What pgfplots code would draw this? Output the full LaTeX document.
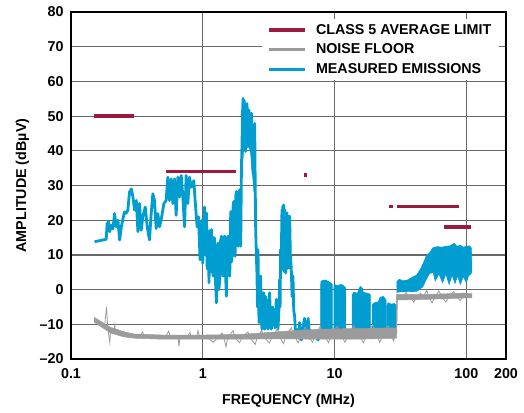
\documentclass[border=0pt]{standalone}
\usepackage{fontspec}
\setmainfont{Liberation Sans}
\usepackage{pgfplots}
\pgfplotsset{compat=1.18}
\definecolor{limitred}{RGB}{155,27,62}
\definecolor{noisegray}{RGB}{155,155,155}
\definecolor{emblue}{RGB}{0,157,209}
\definecolor{gridgray}{RGB}{105,105,105}
\newcommand{\chartfont}{\fontsize{14.3bp}{17bp}\selectfont\bfseries}
\begin{document}
\begin{tikzpicture}
\begin{axis}[
  scale only axis, width=435bp, height=347bp,
  xmode=log, log basis x=10,
  xmin=0.1, xmax=200, ymin=-20, ymax=80,
  xtick={0.1,1,10,100,200}, xticklabels={0.1,1,10,100,200},
  ytick={-20,-10,0,10,20,30,40,50,60,70,80},
  yticklabels={\textendash20,\textendash10,0,10,20,30,40,50,60,70,80},
  major tick length=0pt, minor tick length=0pt,
  grid=major, major grid style={gridgray, line width=1.2bp},
  axis line style={black, line width=1.2bp},
  tick label style={font=\chartfont},
  xticklabel style={yshift=-6bp},
  yticklabel style={xshift=-4bp},
  label style={font=\chartfont},
  xlabel={FREQUENCY (MHz)}, ylabel={AMPLITUDE (dBµV)},
  xlabel style={at={(axis description cs:0.5,-0.12)}, anchor=center},
  ylabel style={at={(axis description cs:-0.1115,0.5)}, anchor=center},
  legend image code/.code={\draw[#1] (0bp,0bp) -- (36bp,0bp);},
  legend style={at={(rel axis cs:0.984,0.98)}, anchor=north east,
    draw=none, fill=white, inner xsep=5.5bp, inner ysep=3bp,
    font=\chartfont, column sep=7bp, row sep=4.4bp, cells={anchor=west}},
]
\addlegendimage{limitred, line width=3.5bp}
\addlegendentry{CLASS 5 AVERAGE LIMIT}
\addlegendimage{noisegray, line width=3.5bp}
\addlegendentry{NOISE FLOOR}
\addlegendimage{emblue, line width=3.5bp}
\addlegendentry{MEASURED EMISSIONS}

% ---- measured emissions: dense blocks ----
\addplot[forget plot, fill=emblue, draw=emblue, line width=0.6bp] coordinates {
(3.95,6) (3.99,23) (4.108,24.4) (4.18,23.5) (4.3,22) (4.4,21.5) (4.56,21.1) (4.62,14) (4.62,6) (4.4,6) (4.25,5) (4.1,5)};
\addplot[forget plot, fill=emblue, draw=emblue, line width=0.6bp] coordinates {
(1.96,32) (2.0,48) (2.021,55.1) (2.06,54.5) (2.09,52) (2.15,53) (2.2,50) (2.25,51) (2.3,47) (2.36,48) (2.42,38) (2.45,28)
(2.4,32) (2.3,40) (2.2,42) (2.12,40) (2.05,41) (2.0,36)};
\addplot[forget plot, fill=emblue, draw=emblue, line width=0.6bp] coordinates {
(7.83,-12) (7.83,1.0) (7.9,2.4) (8.1,2.6) (8.5,2.8) (8.9,2.4) (9.3,2.0) (9.6,1.5) (9.6,-12)};
\addplot[forget plot, fill=emblue, draw=emblue, line width=0.6bp] coordinates {
(9.88,-12) (9.88,0.5) (10.0,1.4) (10.6,1.2) (11.2,1.5) (11.8,1.0) (12.1,0.5) (12.1,-12)};
\addplot[forget plot, fill=emblue, draw=emblue, line width=0.6bp] coordinates {
(13.6,-12) (13.6,-1.5) (14,-0.8) (15,-1.0) (15.3,0.3) (15.8,0.9) (16.3,0.3) (16.5,-0.8) (17.5,-1.0) (18.3,-1.2) (18.7,-1.5) (18.7,-12)};
\addplot[forget plot, fill=emblue, draw=emblue, line width=0.6bp] coordinates {
(19.3,-12) (19.3,-4.5) (20,-3.8) (21.5,-3.5) (22.2,-2.2) (23.5,-2.0) (24.6,-3) (24.6,-12)};
\addplot[forget plot, fill=emblue, draw=emblue, line width=0.6bp] coordinates {
(24.9,-12) (24.9,-4.5) (25.5,-3.8) (27,-4.2) (28.5,-4) (29.3,-4.5) (29.4,-12)};
\addplot[forget plot, fill=emblue, draw=emblue, line width=0.6bp] coordinates {
(29.7,-1) (29.7,2.3) (31,3.0) (33,2.5) (36,2.8) (39,3.6) (42,4.2) (45,6) (47,7.5) (50,10) (52.4,10.5) (55.6,12) (60,12.4)
(65,12.2) (70,12.5) (75,12.6) (81,13.3) (85,12.5) (90,12.8) (95,12.2) (100,12.5) (106,12.6) (109,12) (110,8)
(110,5) (108,4.5) (104,4) (100,2) (95,3.8) (90,1.5) (86,4) (82,1.8) (78,4.2) (74,1.5) (70,4.5) (66,2) (62,4.5) (58,2.5)
(56,5) (52.4,4.6) (49,2.5) (46.7,0.8) (42,-0.5) (36,-0.6) (30,-0.7)};
% ---- measured emissions: trace ----
\addplot[forget plot, emblue, line width=2.8bp, line join=round] coordinates {
(0.151,13.8) (0.185,14.5) (0.188,19.0) (0.193,19.5) (0.197,16.7) (0.202,18.5) (0.208,17.5) (0.214,21.9) (0.220,18.1)
(0.227,20.0) (0.234,14.3) (0.241,18.1) (0.248,20.5) (0.255,22.4) (0.262,22.0) (0.270,22.9) (0.278,28.1) (0.287,29.0)
(0.295,26.7) (0.304,22.9) (0.313,25.7) (0.322,16.7) (0.331,24.8) (0.341,17.1) (0.351,21.0) (0.366,23.8) (0.379,18.1)
(0.394,14.3) (0.406,21.9) (0.418,27.6) (0.430,25.7) (0.443,17.6) (0.456,21.9) (0.470,18.1) (0.483,20.0) (0.507,24.8)
(0.527,25.7) (0.543,32.4) (0.559,25.7) (0.576,31.9) (0.593,24.8) (0.610,31.9) (0.628,21.4) (0.647,32.4) (0.666,26.7)
(0.686,32.9) (0.706,26.7) (0.727,18.1) (0.748,32.9) (0.770,24.8) (0.793,32.4) (0.816,29.5) (0.855,31.4) (0.875,25.7)
(0.906,18.1) (0.927,21.0) (0.955,8.6) (0.983,20.0) (1.000,7.6) (1.03,23.8) (1.045,10) (1.066,22.1) (1.08,6) (1.098,16.3)
(1.115,2) (1.13,17) (1.145,5) (1.163,17.3) (1.18,8) (1.198,3.9) (1.215,15) (1.233,14.4) (1.25,2) (1.269,-3.8) (1.288,12)
(1.307,13.4) (1.325,0) (1.345,2.9) (1.365,14) (1.385,15.4) (1.405,5) (1.426,3.9) (1.447,15) (1.468,15.4) (1.49,4)
(1.511,-1.9) (1.533,14) (1.555,15.4) (1.578,5) (1.602,3.9) (1.63,22.5) (1.655,8) (1.678,11.5) (1.7,24) (1.718,25.4)
(1.74,12) (1.758,9.6) (1.78,27) (1.800,28.3) (1.825,15) (1.853,12.5) (1.88,27) (1.907,28.8) (1.925,18) (1.941,12.5)
(1.965,35) (1.986,42.2) (2.0,50) (2.021,55.1) (2.04,44) (2.06,54.5) (2.081,52.7) (2.1,42) (2.117,39.8) (2.14,52)
(2.167,53.6) (2.185,45) (2.205,41.2) (2.225,50) (2.244,51.7) (2.27,43) (2.297,45.0) (2.317,50) (2.337,50.8) (2.37,40)
(2.406,33.5) (2.44,45) (2.477,47.9) (2.50,30) (2.520,17.3) (2.55,10) (2.580,3.9) (2.6,-5) (2.625,11.5) (2.65,-2)
(2.672,-9.5) (2.71,1) (2.750,3.9) (2.78,-8) (2.815,-11.4) (2.85,-3) (2.898,-0.9) (2.92,-9) (2.950,-11.4) (2.99,-2)
(3.036,-3.8) (3.08,-10) (3.126,-11.4) (3.17,-4) (3.218,-0.9) (3.26,-10) (3.313,-11.4) (3.38,-5) (3.451,-8.6) (3.53,-11)
(3.615,-2.8) (3.67,-9) (3.721,-11.4) (3.78,-6) (3.831,2.9) (3.86,-5) (3.898,11.5) (3.94,8) (3.990,23.0) (4.02,6)
(4.05,24) (4.08,8) (4.108,24.4) (4.14,6) (4.180,23.0) (4.22,10) (4.256,4.8) (4.3,20) (4.356,22.1) (4.40,8) (4.457,14.4)
(4.51,21) (4.562,21.1) (4.62,10) (4.697,5.8) (4.76,-2) (4.835,3.9) (4.9,-6) (4.977,-7.6) (5.05,-12) (5.124,-11.4)
(5.3,-14) (5.431,-9.5) (5.6,-14.5) (5.756,-11.4) (5.9,-8.3) (6.1,-13) (6.3,-8.3) (6.5,-14) (7.0,-12) (7.5,-14.5) (7.83,-12)};

% ---- noise floor ----
\addplot[forget plot, fill=noisegray, draw=noisegray, line width=0.5bp] coordinates {
(0.15,-8.0) (0.2,-10.9) (0.25,-12.1) (0.3,-12.8) (0.5,-13.1) (1,-13.1) (2,-12.9) (3,-12.4) (5,-11.8) (8,-11.4) (15,-11.2)
(29.5,-11.0) (29.6,-1.4) (50,-1.4) (100,-1.0) (110,-1.2)
(110,-2.4) (100,-2.4) (50,-2.8) (30,-3.0) (29.6,-14.0) (15,-14.3) (8,-14.3) (5,-14.2) (3,-14.2) (2,-14.3) (1,-14.3)
(0.5,-14.3) (0.3,-14.0) (0.25,-13.6) (0.2,-12.5) (0.15,-9.4)};
\addplot[forget plot, noisegray, line width=0.8bp] coordinates {
(0.15,-8.6) (0.17,-9.8) (0.18,-10.6) (0.186,-4.9) (0.19,-11) (0.197,-15.2) (0.2,-11.6) (0.212,-12) (0.215,-10.2)
(0.218,-12.4) (0.26,-12.9) (0.3,-13.3) (0.33,-13.4) (0.35,-12.2) (0.36,-13.6) (0.45,-13.8) (0.52,-13.7) (0.55,-12.0)
(0.57,-13.8) (0.65,-14) (0.66,-16.4) (0.67,-13.8) (0.75,-13.9) (0.8,-12.4) (0.82,-14) (0.9,-13.6) (0.92,-11.8) (0.95,-13.8)
(1.1,-14) (1.2,-15.2) (1.3,-13.8) (1.4,-12.5) (1.45,-14) (1.5,-16.5) (1.55,-13.8) (1.7,-11.8) (1.75,-13.8) (1.9,-15.3)
(2.0,-13.6) (2.2,-12.2) (2.3,-14) (2.5,-15.8) (2.6,-13.5) (2.8,-11.8) (2.9,-13.6) (3.2,-15.4) (3.4,-13.4) (3.7,-11.2)
(3.8,-13.4) (4.1,-15.6) (4.3,-13.3) (4.7,-11.0) (4.9,-13.2) (5.3,-15.3) (5.6,-13) (6.0,-10.8) (6.3,-13) (6.8,-15.2)
(7.2,-12.8) (7.8,-10.6) (8.2,-12.8) (9,-15.3) (9.5,-12.6) (10.5,-10.6) (11,-12.6) (12,-15.2) (13,-12.5) (14,-10.4) (15,-12.4)
(16.5,-15.3) (18,-12.3) (19.5,-10.2) (20.5,-12.3) (22,-15.2) (24,-12.2) (25.5,-10.4) (26.5,-12.2) (28,-14.8) (29.5,-12)
(29.7,-1.8) (32,-2.2) (35,-0.9) (37,-2.3) (40,-3.6) (42,-2.2) (45,-1.0) (47,-2.2) (50,-0.2) (52,-2.1) (55,-3.8) (58,-2)
(62,-0.4) (65,-2) (70,-3.6) (74,-1.9) (80,-0.6) (84,-1.9) (90,-3.2) (95,-1.7) (100,-1.0) (105,-1.7) (110,-1.6)};

% ---- class 5 average limit ----
\addplot[forget plot, limitred, line width=3.5bp] coordinates {(0.15,50) (0.3,50)};
\addplot[forget plot, limitred, line width=3.5bp] coordinates {(0.53,34) (1.8,34)};
\addplot[forget plot, limitred, line width=3.5bp] coordinates {(5.9,33) (6.2,33)};
\addplot[forget plot, limitred, line width=3.5bp] coordinates {(26,24) (28,24)};
\addplot[forget plot, limitred, line width=3.5bp] coordinates {(30,24) (88,24)};
\addplot[forget plot, limitred, line width=3.5bp] coordinates {(68,18) (108,18)};
\end{axis}
\pgfresetboundingbox
\path[use as bounding box] (current axis.south west) ++(-71bp,-54bp) rectangle ++(524bp,413bp);
\end{tikzpicture}
\end{document}
